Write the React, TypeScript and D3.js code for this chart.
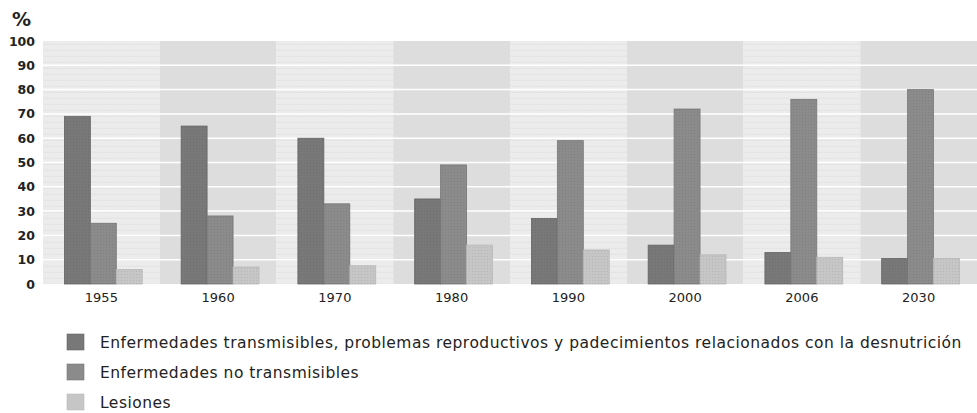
import React from "react";
import * as d3 from "d3";

const years = ["1955", "1960", "1970", "1980", "1990", "2000", "2006", "2030"];
const transmisibles = [69, 65, 60, 35, 27, 16, 13, 10.5];
const noTransmisibles = [25, 28, 33, 49, 59, 72, 76, 80];
const lesiones = [6, 7, 7.5, 16, 14, 12, 11, 10.5];
const seriesNames = [
  "Enfermedades transmisibles, problemas reproductivos y padecimientos relacionados con la desnutrición",
  "Enfermedades no transmisibles",
  "Lesiones",
];
const yTicks = [0, 10, 20, 30, 40, 50, 60, 70, 80, 90, 100];
const colors = ["#787878", "#8b8b8b", "#c6c6c6"];
const strokes = ["#666", "#777", "#b8b8b8"];

export default function App() {
  const W = 977, H = 413;
  const left = 43, right = 977, top = 41, bottom = 284;
  const x = d3.scaleBand<string>().domain(years).range([left, right]).padding(0);
  const inner = d3.scaleBand<number>().domain([0, 1, 2]).range([0, x.bandwidth()])
    .paddingInner(0).paddingOuter(0.75).align(0.55);
  const y = d3.scaleLinear().domain([0, 100]).range([bottom, top]);
  const series = [transmisibles, noTransmisibles, lesiones];
  const font = "'DejaVu Sans', sans-serif";

  return (
    <svg width={W} height={H} style={{ position: "absolute", left: 0, top: 0, background: "#fff" }}>
      <defs>
        <pattern id="zig" width="6" height="6" patternUnits="userSpaceOnUse">
          <rect width="6" height="6" fill="#ececec" />
          <path d="M0 3 L1.5 1.5 L3 3 L4.5 1.5 L6 3" stroke="#dedede" strokeWidth="0.8" fill="none" />
        </pattern>
        <pattern id="dots" width="3" height="3" patternUnits="userSpaceOnUse">
          <rect width="3" height="3" fill="none" />
          <rect x="1" y="1" width="1" height="1" fill="#000" opacity="0.08" />
        </pattern>
      </defs>
      {years.map((yr, i) => (
        <rect key={yr} x={x(yr)} y={top} width={x.bandwidth()} height={bottom - top}
          fill={i % 2 === 0 ? "url(#zig)" : "#dddddd"} />
      ))}
      {yTicks.filter(t => t > 0 && t < 100).map(t => (
        <line key={t} x1={left} x2={right} y1={y(t)} y2={y(t)} stroke="#fff" strokeWidth={1.5} />
      ))}
      {years.map((yr, i) =>
        series.map((s, k) => (
          <g key={yr + k}>
            <rect x={(x(yr) as number) + (inner(k) as number)} y={y(s[i])} width={inner.bandwidth()}
              height={bottom - y(s[i])} fill={colors[k]} stroke={strokes[k]} strokeWidth={0.8} />
            <rect x={(x(yr) as number) + (inner(k) as number)} y={y(s[i])} width={inner.bandwidth()}
              height={bottom - y(s[i])} fill="url(#dots)" />
          </g>
        ))
      )}
      {yTicks.map(t => (
        <text key={t} x={35} y={y(t)} dy="0.36em" textAnchor="end" fontFamily={font} fontWeight="bold"
          fontSize={12.5} fill="#222">{t}</text>
      ))}
      <text x={12} y={26} fontFamily={font} fontWeight="bold" fontSize={19} fill="#222">%</text>
      {years.map(yr => (
        <text key={yr} x={(x(yr) as number) + x.bandwidth() / 2} y={297} dy="0.36em" textAnchor="middle"
          fontFamily={font} fontSize={13} fill="#222">{yr}</text>
      ))}
      {seriesNames.map((n, k) => (
        <g key={n} transform={`translate(0, ${342 + k * 30})`}>
          <rect x={67} y={-8} width={17} height={16} fill={colors[k]} stroke={strokes[k]} strokeWidth={0.6} />
          <text x={100} y={0} dy="0.36em" fontFamily={font} fontSize={15.5} letterSpacing={0.5} fill="#222">{n}</text>
        </g>
      ))}
    </svg>
  );
}
